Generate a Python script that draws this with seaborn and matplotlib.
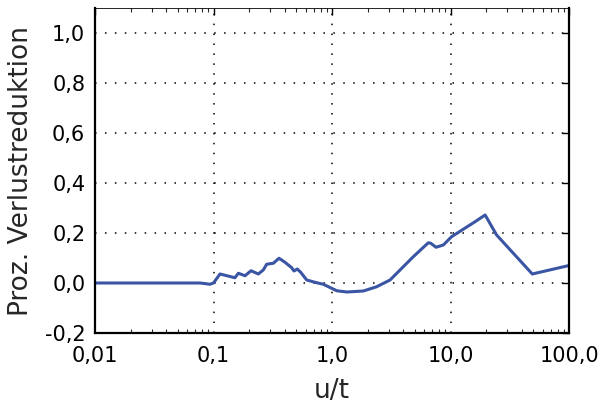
import matplotlib
matplotlib.use("Agg")
import matplotlib.pyplot as plt
import seaborn as sns
import pandas as pd
from matplotlib.ticker import FixedLocator, FixedFormatter, LogLocator, NullFormatter

# Ratio u/t and relative loss reduction
u_t = [0.01, 0.077, 0.0934, 0.1, 0.1135, 0.1518, 0.162, 0.1845, 0.2073, 0.2388,
       0.263, 0.281, 0.320, 0.357, 0.401, 0.457, 0.478, 0.509, 0.544, 0.612,
       0.743, 0.845, 1.096, 1.33, 1.84, 2.38, 3.09, 4.85, 6.50, 6.81, 7.55,
       8.70, 10.2, 16.1, 19.6, 24.5, 49.0, 100.0]
reduktion = [0.0, 0.0, -0.005, 0.0, 0.036, 0.021, 0.039, 0.029, 0.049, 0.036,
             0.052, 0.075, 0.079, 0.099, 0.083, 0.061, 0.048, 0.056, 0.043, 0.012,
             0.001, -0.005, -0.031, -0.036, -0.032, -0.015, 0.012, 0.105, 0.161, 0.159, 0.143,
             0.152, 0.185, 0.245, 0.272, 0.192, 0.036, 0.07]

x_ticks = [0.01, 0.1, 1.0, 10.0, 100.0]
x_labels = ["0,01", "0,1", "1,0", "10,0", "100,0"]
y_ticks = [-0.2, 0.0, 0.2, 0.4, 0.6, 0.8, 1.0]
y_labels = ["-0,2", "0,0", "0,2", "0,4", "0,6", "0,8", "1,0"]

sns.set_style("white")
plt.rcParams["font.family"] = ["DejaVu Sans"]

df = pd.DataFrame({"u/t": u_t, "red": reduktion})

fig = plt.figure(figsize=(5.98, 4.05), dpi=100)
ax = fig.add_axes([95 / 598, 1 - 333 / 405, (569 - 95) / 598, (333 - 8) / 405])

sns.lineplot(data=df, x="u/t", y="red", ax=ax, color="#3a55a4", linewidth=2.2,
             sort=False, estimator=None)

ax.set_xscale("log")
ax.set_xlim(0.01, 100)
ax.set_ylim(-0.2, 1.1)

ax.xaxis.set_major_locator(FixedLocator(x_ticks))
ax.xaxis.set_major_formatter(FixedFormatter(x_labels))
ax.xaxis.set_minor_locator(LogLocator(base=10, subs=range(2, 10)))
ax.xaxis.set_minor_formatter(NullFormatter())
ax.yaxis.set_major_locator(FixedLocator(y_ticks))
ax.yaxis.set_major_formatter(FixedFormatter(y_labels))

ax.grid(True, which="major", color="black", linestyle=(0, (1, 5.5)), linewidth=1.1)
ax.tick_params(which="major", direction="in", length=5, width=1.0,
               top=True, right=True, labelsize=15, colors="black")
ax.tick_params(which="minor", direction="in", length=3, width=0.8,
               top=True, bottom=True)
ax.tick_params(axis="y", pad=7)
ax.tick_params(axis="x", pad=9)

for side in ["left", "right", "bottom"]:
    ax.spines[side].set_color("black")
    ax.spines[side].set_linewidth(1.6)
ax.spines["top"].set_color("black")
ax.spines["top"].set_linewidth(0.6)

ax.set_xlabel("u/t", fontsize=19, labelpad=9)
ax.set_ylabel("Proz. Verlustreduktion", fontsize=19, labelpad=8)

fig.savefig("out.png", dpi=100)
